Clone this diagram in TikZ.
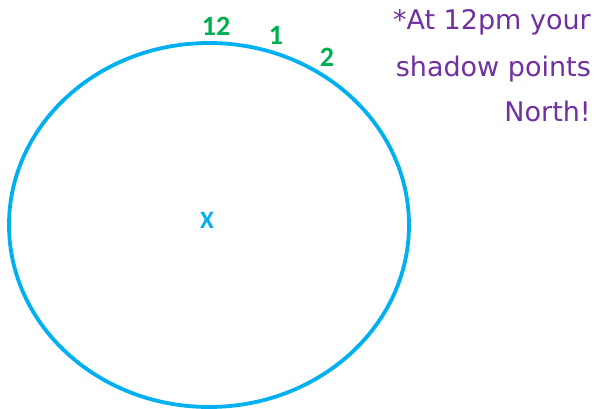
\documentclass[tikz,border=0pt]{standalone}
\usepackage{fontspec}
\setmainfont{Carlito}
\newfontfamily\notefont{DejaVu Sans}
\definecolor{dialblue}{HTML}{00B0F0}
\definecolor{hourgreen}{HTML}{00B050}
\definecolor{notepurple}{HTML}{7030A0}
\begin{document}
\begin{tikzpicture}[x=1pt,y=-1pt,
  hour/.style={text=hourgreen,font=\bfseries\fontsize{28}{28}\selectfont,inner sep=0pt},
  note/.style={text=notepurple,font=\notefont\fontsize{27}{27}\selectfont,inner sep=0pt,anchor=base east}]
\useasboundingbox (0,0) rectangle (597,409);
\draw[dialblue,line width=3.8pt] (209,225) ellipse [x radius=200, y radius=182];
\node[hour] (h12) at (216,26) {12};
\node[hour] (h1) at (276,35) {1};
\node[hour] (h2) at (327,57) {2};
\node[text=dialblue,font=\bfseries\fontsize{25}{25}\selectfont,inner sep=0pt] (x) at (207,220) {X};
\node[note] (n1) at (591,30) {*At 12pm your};
\node[note] (n2) at (591,77) {shadow points};
\node[note] (n3) at (591,122) {North!};
\end{tikzpicture}
\end{document}
